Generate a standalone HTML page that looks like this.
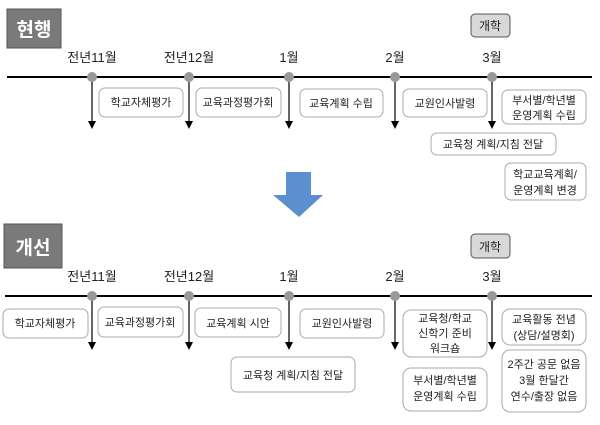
<!DOCTYPE html><html><head><meta charset="utf-8"><style>
body{margin:0;width:600px;height:420px;background:#fff;overflow:hidden}
svg text{font-family:"Liberation Sans","Noto Sans CJK KR",sans-serif}
</style></head><body>
<svg width="600" height="420" xmlns="http://www.w3.org/2000/svg">
<g font-size="11" text-anchor="middle" fill="#222">
<!-- top -->
<rect x="7" y="9" width="54" height="39" fill="#7a7a7a" stroke="#555"/>
<text x="34" y="36" font-size="19" font-weight="bold" fill="#fff">현행</text>
<rect x="471" y="14" width="39" height="23" rx="4" fill="#d8d8d8" stroke="#555"/>
<text x="490" y="30" font-size="12">개학</text>
<g font-size="13"><text x="92" y="62">전년11월</text><text x="189" y="62">전년12월</text><text x="289" y="62">1월</text><text x="395" y="62">2월</text><text x="492" y="62">3월</text></g>
<line x1="7" y1="77" x2="592" y2="77" stroke="#000" stroke-width="2"/>
<g stroke="#000" stroke-width="1.2">
<line x1="92" y1="77" x2="92" y2="122"/><line x1="189" y1="77" x2="189" y2="122"/><line x1="289" y1="77" x2="289" y2="122"/><line x1="395" y1="77" x2="395" y2="122"/><line x1="492" y1="77" x2="492" y2="122"/></g>
<g fill="#000"><path d="M88,121h8l-4,8z"/><path d="M185,121h8l-4,8z"/><path d="M285,121h8l-4,8z"/><path d="M391,121h8l-4,8z"/><path d="M488,121h8l-4,8z"/></g>
<g fill="#999"><circle cx="92" cy="77" r="5"/><circle cx="189" cy="77" r="5"/><circle cx="289" cy="77" r="5"/><circle cx="395" cy="77" r="5"/><circle cx="492" cy="77" r="5"/></g>
<g fill="#fff" stroke="#aaa">
<rect x="99" y="88" width="84" height="29" rx="6"/><rect x="196" y="88" width="85" height="29" rx="6"/><rect x="300" y="89" width="83" height="28" rx="6"/><rect x="403" y="89" width="84" height="28" rx="6"/><rect x="502" y="90" width="84" height="34" rx="6"/><rect x="431" y="133" width="125" height="22" rx="6"/><rect x="505" y="163" width="81" height="37" rx="6"/></g>
<text x="141" y="106">학교자체평가</text><text x="238" y="106">교육과정평가회</text><text x="341" y="107">교육계획 수립</text><text x="445" y="107">교원인사발령</text>
<text x="544" y="104">부서별/학년별</text><text x="544" y="119">운영계획 수립</text>
<text x="493" y="148">교육청 계획/지침 전달</text>
<text x="545" y="178">학교교육계획/</text><text x="545" y="194">운영계획 변경</text>
<!-- arrow -->
<path d="M286,172 L311,172 L311,195 L323,195 L299,217 L273,195 L286,195z" fill="#5b8fd0"/>
<!-- bottom -->
<rect x="4" y="224" width="58" height="44" fill="#7a7a7a" stroke="#555"/>
<text x="33" y="254" font-size="19" font-weight="bold" fill="#fff">개선</text>
<rect x="471" y="234" width="39" height="24" rx="4" fill="#d8d8d8" stroke="#555"/>
<text x="490" y="251" font-size="12">개학</text>
<g font-size="13"><text x="92" y="281">전년11월</text><text x="189" y="281">전년12월</text><text x="289" y="281">1월</text><text x="395" y="281">2월</text><text x="492" y="281">3월</text></g>
<line x1="5" y1="296" x2="592" y2="296" stroke="#000" stroke-width="2"/>
<g stroke="#000" stroke-width="1.2">
<line x1="92" y1="296" x2="92" y2="343"/><line x1="189" y1="296" x2="189" y2="343"/><line x1="289" y1="296" x2="289" y2="343"/><line x1="395" y1="296" x2="395" y2="343"/><line x1="492" y1="296" x2="492" y2="343"/></g>
<g fill="#000"><path d="M88,342h8l-4,8z"/><path d="M185,342h8l-4,8z"/><path d="M285,342h8l-4,8z"/><path d="M391,342h8l-4,8z"/><path d="M488,342h8l-4,8z"/></g>
<g fill="#999"><circle cx="92" cy="296" r="5"/><circle cx="189" cy="296" r="5"/><circle cx="289" cy="296" r="5"/><circle cx="395" cy="296" r="5"/><circle cx="492" cy="296" r="5"/></g>
<g fill="#fff" stroke="#aaa">
<rect x="3" y="309" width="85" height="29" rx="6"/><rect x="98" y="307" width="85" height="30" rx="6"/><rect x="195" y="308" width="86" height="29" rx="6"/><rect x="300" y="309" width="84" height="29" rx="6"/><rect x="231" y="357" width="124" height="35" rx="6"/><rect x="403" y="310" width="84" height="47" rx="8"/><rect x="403" y="368" width="84" height="43" rx="8"/><rect x="502" y="309" width="84" height="36" rx="8"/><rect x="502" y="350" width="84" height="62" rx="8"/></g>
<text x="45" y="327">학교자체평가</text><text x="140" y="326">교육과정평가회</text><text x="238" y="327">교육계획 시안</text><text x="342" y="327">교원인사발령</text>
<text x="293" y="379">교육청 계획/지침 전달</text>
<text x="445" y="322">교육청/학교</text><text x="445" y="337">신학기 준비</text><text x="445" y="352">워크숍</text>
<text x="445" y="384">부서별/학년별</text><text x="445" y="400">운영계획 수립</text>
<text x="544" y="323">교육활동 전념</text><text x="544" y="339">(상담/설명회)</text>
<text x="544" y="368">2주간 공문 없음</text><text x="544" y="384">3월 한달간</text><text x="544" y="400">연수/출장 없음</text>
</g></svg></body></html>
